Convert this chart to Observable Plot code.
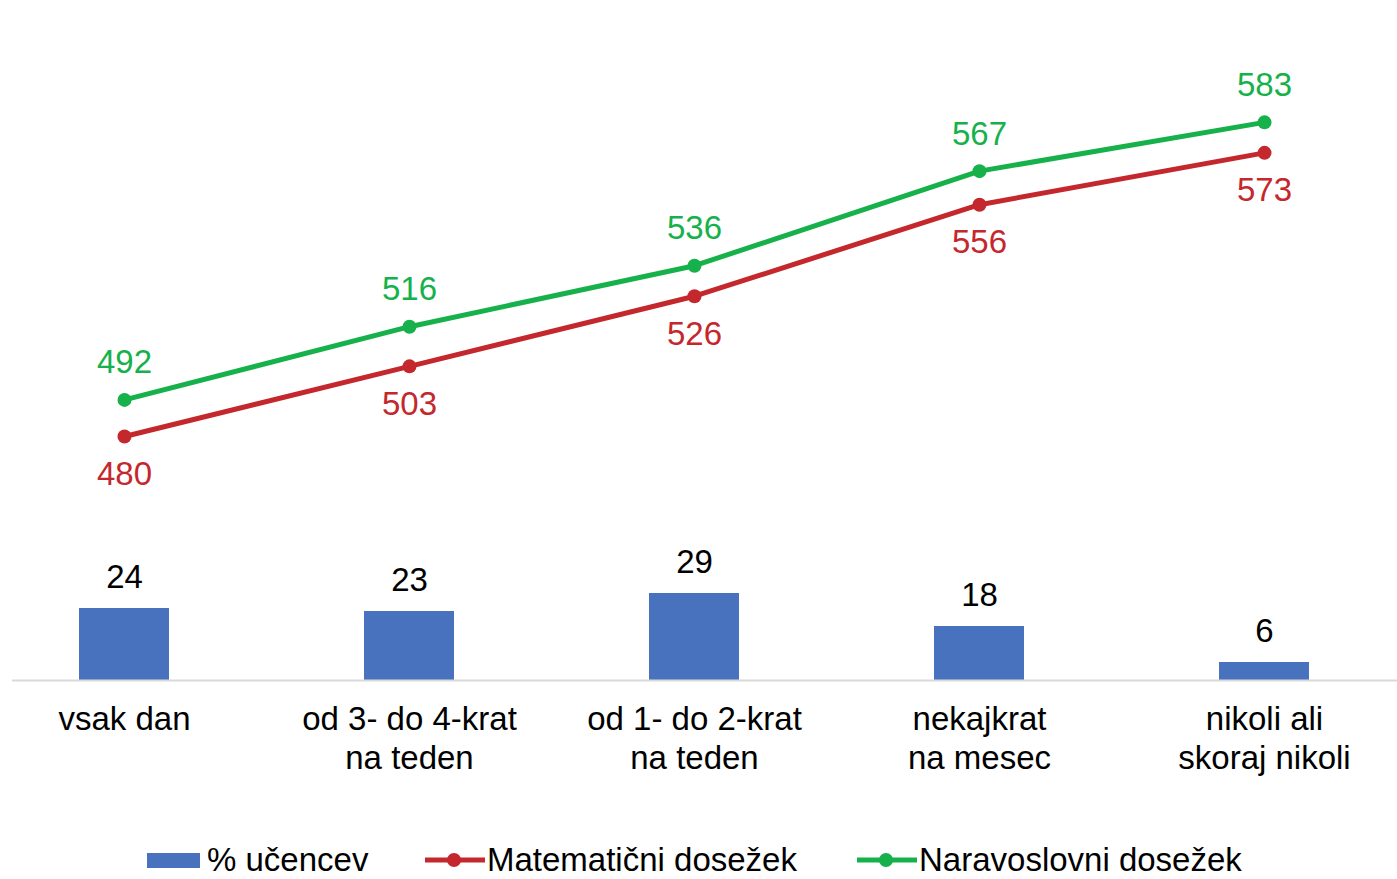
<!DOCTYPE html>
<html>
<head>
<meta charset="utf-8">
<script src="https://cdn.jsdelivr.net/npm/d3@7"></script>
<script src="https://cdn.jsdelivr.net/npm/@observablehq/plot@0.6"></script>
<style>
  html, body { margin: 0; padding: 0; background: #fff; }
  body { width: 1397px; height: 879px; overflow: hidden; font-family: "Liberation Sans", Arial, sans-serif; }
  #legend { position: relative; width: 1397px; height: 79px; }
  .item { position: absolute; top: 42px; height: 36px; display: flex; align-items: center; font-size: 33px; color: #000; white-space: nowrap; }
  .item svg { display: block; }
</style>
</head>
<body>
<div id="chart"></div>
<div id="legend"></div>
<script>
const categories = ["vsak dan", "od 3- do 4-krat\nna teden", "od 1- do 2-krat\nna teden", "nekajkrat\nna mesec", "nikoli ali\nskoraj nikoli"];
const pctStudents = [24, 23, 29, 18, 6];
const mathScores = [480, 503, 526, 556, 573];
const scienceScores = [492, 516, 536, 567, 583];
const seriesNames = ["% učencev", "Matematični dosežek", "Naravoslovni dosežek"];
const colors = { bar: "#4872bd", math: "#c4282d", science: "#17b14b" };

// bar values sit on a secondary axis whose zero aligns with 400 of the score axis
const secBase = 400, secRatio = 3 / 3.05;
const barData = categories.map((c, i) => ({ c, v: pctStudents[i] }));
const mathData = categories.map((c, i) => ({ c, v: mathScores[i] }));
const sciData = categories.map((c, i) => ({ c, v: scienceScores[i] }));

const font = "Liberation Sans, Arial, sans-serif";

const chart = Plot.plot({
  width: 1397,
  height: 800,
  marginTop: 70,
  marginBottom: 120,
  marginLeft: 12,
  marginRight: 0,
  style: { fontFamily: font, background: "#fff", overflow: "visible" },
  x: { type: "band", domain: categories, range: [-19.75, 1407.75], paddingInner: 0.685, paddingOuter: 0.3425, label: null },
  y: { domain: [400, 600], axis: null },
  marks: [
    Plot.barY(barData, { x: "c", y1: secBase, y2: d => secBase + d.v * secRatio, fill: colors.bar }),
    Plot.ruleY([secBase], { stroke: "#d9d9d9", strokeWidth: 2 }),
    Plot.text(barData, { x: "c", y: d => secBase + d.v * secRatio, text: d => String(d.v), dy: -31, fontSize: 33, fill: "#000" }),
    Plot.line(mathData, { x: "c", y: "v", stroke: colors.math, strokeWidth: 5 }),
    Plot.dot(mathData, { x: "c", y: "v", r: 7, fill: colors.math }),
    Plot.text(mathData, { x: "c", y: "v", text: d => String(d.v), dy: 38, fontSize: 33, fill: colors.math }),
    Plot.line(sciData, { x: "c", y: "v", stroke: colors.science, strokeWidth: 5 }),
    Plot.dot(sciData, { x: "c", y: "v", r: 7, fill: colors.science }),
    Plot.text(sciData, { x: "c", y: "v", text: d => String(d.v), dy: -37, fontSize: 33, fill: colors.science }),
    Plot.axisX({ tickSize: 0, tickPadding: 21, fontSize: 33, lineHeight: 1.2, fill: "#000", label: null })
  ]
});
document.getElementById("chart").appendChild(chart);

// legend
const legend = document.getElementById("legend");
const items = [
  { name: seriesNames[0], left: 147, kind: "bar", color: colors.bar },
  { name: seriesNames[1], left: 425, kind: "line", color: colors.math },
  { name: seriesNames[2], left: 857, kind: "line", color: colors.science }
];
for (const it of items) {
  const div = document.createElement("div");
  div.className = "item";
  div.style.left = it.left + "px";
  let sw;
  if (it.kind === "bar") {
    sw = `<svg width="60" height="36"><rect x="0" y="11" width="53" height="15" fill="${it.color}"/></svg>`;
  } else {
    sw = `<svg width="62" height="36"><line x1="0" x2="60" y1="18" y2="18" stroke="${it.color}" stroke-width="5"/><circle cx="29" cy="18" r="7" fill="${it.color}"/></svg>`;
  }
  div.innerHTML = sw + `<span>${it.name}</span>`;
  legend.appendChild(div);
}
</script>
</body>
</html>
